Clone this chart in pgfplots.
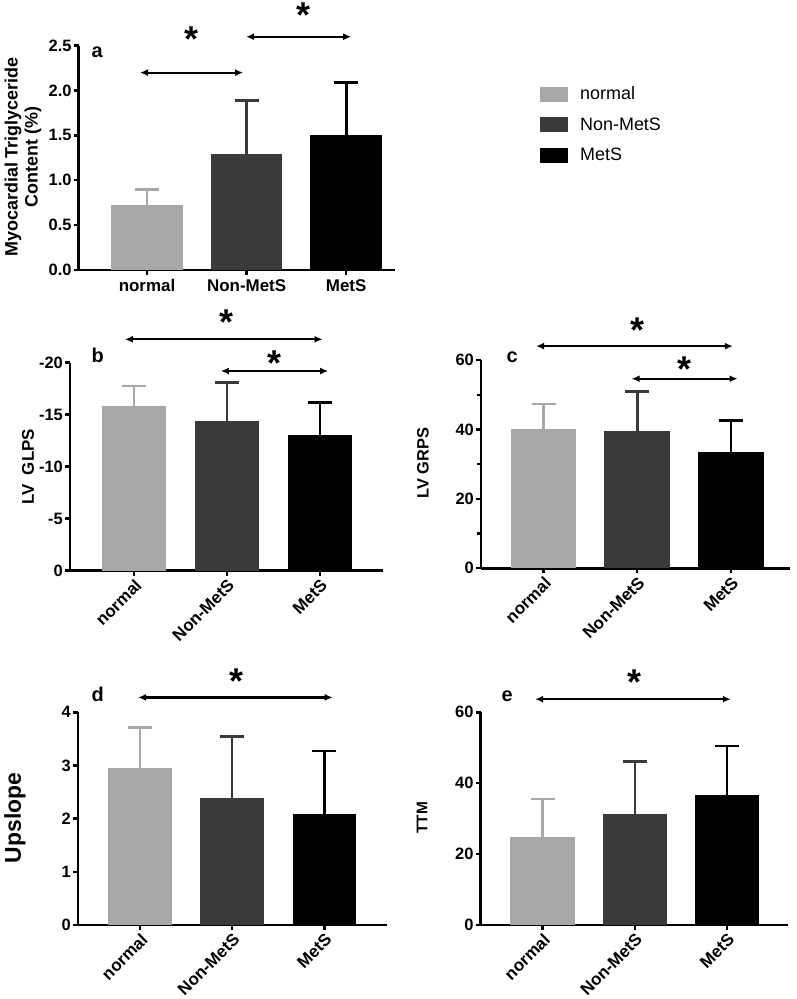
\documentclass[border=0pt]{standalone}
\usepackage{fontspec}
\setmainfont{Liberation Sans}
\setsansfont{Liberation Sans}
\usepackage{pgfplots}
\pgfplotsset{compat=1.18}
\usetikzlibrary{arrows.meta}
\definecolor{gN}{RGB}{168,168,168}
\definecolor{gD}{RGB}{58,58,58}
\definecolor{gM}{RGB}{0,0,0}
\pgfplotsset{
  panel/.style={scale only axis, axis x line*=bottom, axis y line*=left,
    axis line style={line width=2.6bp,-}, tick style={line width=2.4bp,black},
    major tick length=5bp, minor tick length=4bp, tick align=outside,
    xtick={0,1,2}, xticklabels={normal,Non-MetS,MetS}, enlargelimits=false, clip=false,
    /pgf/number format/assume math mode=true,
    yticklabel style={font=\bfseries\fontsize{16.5}{16.5}\selectfont, inner sep=2bp}},
  rotlab/.style={xticklabel style={font=\bfseries\fontsize{17}{17}\selectfont, rotate=45, anchor=north east, inner sep=1.5bp}},
  bars/.style n args={3}{ybar, bar width=#1, bar shift=0pt, fill=#2, draw=none,
    legend image code/.code={\fill[fill=#2] (0bp,-7.5bp) rectangle (28bp,7.5bp);},
    error bars/.cd, y dir=#3, y explicit,
    error bar style={line width=2.6bp, draw=#2},
    error mark options={rotate=90, mark size=12bp, line width=2.6bp, draw=#2}},
}
\tikzset{star/.style={anchor=north, inner sep=0pt, font=\bfseries\fontsize{36}{36}\selectfont},
  sig/.style={line width=2.2bp, {Latex[length=8bp,width=7bp]}-{Latex[length=8bp,width=7bp]}}}
\begin{document}
\begin{tikzpicture}
\path[use as bounding box] (0,0) rectangle (797bp,999bp);
% panel a
\begin{axis}[panel, at={(78.7bp,729bp)}, anchor=south west, width=316.3bp, height=224.3bp,
  xmin=-0.686, xmax=2.49, ymin=0, ymax=2.5,
  ytick={0,0.5,1,1.5,2,2.5}, yticklabels={0.0,0.5,1.0,1.5,2.0,2.5},
  xticklabel style={anchor=north, font=\bfseries\fontsize{17}{17}\selectfont, inner sep=4bp},
  legend style={at={(1.4584,0.818)}, anchor=north west, draw=none, fill=none, inner sep=0pt,
    row sep=15.5bp, column sep=12bp, font=\fontsize{18}{18}\selectfont, nodes={inner sep=0pt}},
  legend cell align=left]
\addplot[bars={0.72}{gN}{plus}] coordinates {(0,0.72) +- (0,0.18)};
\addlegendentry{normal}
\addplot[bars={0.72}{gD}{plus}] coordinates {(1,1.29) +- (0,0.60)};
\addlegendentry{Non-MetS}
\addplot[bars={0.72}{gM}{plus}] coordinates {(2,1.51) +- (0,0.58)};
\addlegendentry{MetS}
\draw[sig] (axis cs:-0.07,2.2) -- (axis cs:0.965,2.2);
\node[star] at (axis cs:0.45,2.71) {*};
\draw[sig] (axis cs:0.995,2.6) -- (axis cs:2.05,2.6);
\node[star] at (axis cs:1.57,2.98) {*};
\end{axis}
% panel b
\begin{axis}[panel, rotlab, at={(70bp,428.3bp)}, anchor=south west, width=313bp, height=208bp,
  xmin=-0.688, xmax=2.68, ymin=-20, ymax=0, y dir=reverse,
  ytick={-20,-15,-10,-5,0}, yticklabels={-20,-15,-10,-5,0}]
\addplot[bars={0.69}{gN}{minus}] coordinates {(0,-15.8) +- (0,1.96)};
\addplot[bars={0.69}{gD}{minus}] coordinates {(1,-14.4) +- (0,3.7)};
\addplot[bars={0.69}{gM}{minus}] coordinates {(2,-13.0) +- (0,3.2)};
\draw[sig] (axis cs:-0.097,-22.25) -- (axis cs:2.03,-22.25);
\node[star] at (axis cs:1.0,-25.07) {*};
\draw[sig] (axis cs:0.935,-19.2) -- (axis cs:2.09,-19.2);
\node[star] at (axis cs:1.516,-21.2) {*};
\end{axis}
% panel c
\begin{axis}[panel, rotlab, at={(481bp,430.7bp)}, anchor=south west, width=309bp, height=208.3bp,
  xmin=-0.667, xmax=2.63, ymin=0, ymax=60,
  ytick={0,20,40,60}, yticklabels={0,20,40,60}, minor ytick={10,30,50}]
\addplot[bars={0.70}{gN}{plus}] coordinates {(0,40.1) +- (0,7.2)};
\addplot[bars={0.70}{gD}{plus}] coordinates {(1,39.6) +- (0,11.3)};
\addplot[bars={0.70}{gM}{plus}] coordinates {(2,33.6) +- (0,8.9)};
\draw[sig] (axis cs:-0.08,64) -- (axis cs:2.02,64);
\node[star] at (axis cs:1.0,72.1) {*};
\draw[sig] (axis cs:0.94,54.6) -- (axis cs:2.07,54.6);
\node[star] at (axis cs:1.5,61.0) {*};
\end{axis}
% panel d
\begin{axis}[panel, rotlab, at={(78bp,74bp)}, anchor=south west, width=309bp, height=212.7bp,
  xmin=-0.672, xmax=2.68, ymin=0, ymax=4,
  ytick={0,1,2,3,4}, yticklabels={0,1,2,3,4}]
\addplot[bars={0.69}{gN}{plus}] coordinates {(0,2.96) +- (0,0.75)};
\addplot[bars={0.69}{gD}{plus}] coordinates {(1,2.39) +- (0,1.15)};
\addplot[bars={0.69}{gM}{plus}] coordinates {(2,2.09) +- (0,1.18)};
\draw[sig] (axis cs:-0.02,4.28) -- (axis cs:2.09,4.28);
\node[star] at (axis cs:1.05,4.83) {*};
\end{axis}
% panel e
\begin{axis}[panel, rotlab, at={(480.7bp,74bp)}, anchor=south west, width=307.3bp, height=212.7bp,
  xmin=-0.67, xmax=2.66, ymin=0, ymax=60,
  ytick={0,20,40,60}, yticklabels={0,20,40,60}]
\addplot[bars={0.70}{gN}{plus}] coordinates {(0,24.9) +- (0,10.6)};
\addplot[bars={0.70}{gD}{plus}] coordinates {(1,31.3) +- (0,14.8)};
\addplot[bars={0.70}{gM}{plus}] coordinates {(2,36.7) +- (0,13.8)};
\draw[sig] (axis cs:-0.08,63.7) -- (axis cs:2.04,63.7);
\node[star] at (axis cs:1.0,71.9) {*};
\end{axis}
% labels
\node[rotate=90, align=center, font=\bfseries\fontsize{18}{20}\selectfont] at (23bp,842bp) {Myocardial Triglyceride\\Content (\%)};
\node[anchor=base west, font=\bfseries\fontsize{20}{20}\selectfont] at (88bp,941bp) {a};
\node[anchor=base west, font=\bfseries\fontsize{20}{20}\selectfont] at (88bp,636bp) {b};
\node[rotate=90, font=\bfseries\fontsize{17}{17}\selectfont] at (28bp,532bp) {LV\ \ GLPS};
\node[anchor=base west, font=\bfseries\fontsize{20}{20}\selectfont] at (503bp,636bp) {c};
\node[rotate=90, font=\bfseries\fontsize{16.5}{16.5}\selectfont] at (423bp,536bp) {LV GRPS};
\node[anchor=base west, font=\bfseries\fontsize{20}{20}\selectfont] at (88bp,297bp) {d};
\node[rotate=90, font=\bfseries\fontsize{23}{23}\selectfont] at (15bp,181bp) {Upslope};
\node[anchor=base west, font=\bfseries\fontsize{20}{20}\selectfont] at (498bp,297bp) {e};
\node[rotate=90, font=\bfseries\fontsize{15.5}{15.5}\selectfont] at (422bp,181bp) {TTM};
\end{tikzpicture}
\end{document}
